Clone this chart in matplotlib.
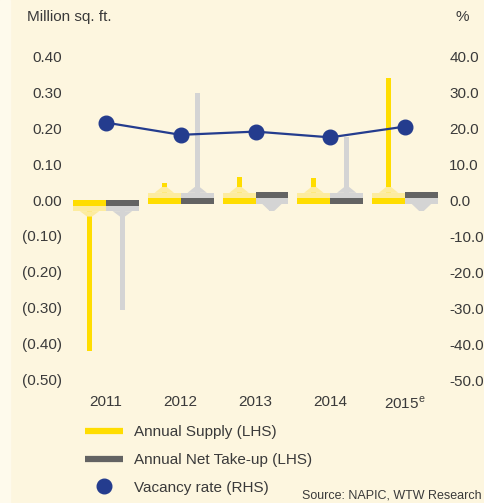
import numpy as np
import matplotlib.pyplot as plt
from matplotlib.lines import Line2D
from matplotlib.patches import Rectangle

plt.rcParams['font.family'] = ['Liberation Sans Narrow', 'Liberation Sans', 'DejaVu Sans']
plt.rcParams['mathtext.fontset'] = 'custom'
plt.rcParams['mathtext.rm'] = 'Liberation Sans'

years = ['2011', '2012', '2013', '2014', '2015$^{\\mathrm{e}}$']
supply = [-0.42, 0.047, 0.063, 0.062, 0.339]
take_up = [-0.305, 0.297, -0.03, 0.175, -0.03]
vacancy = [21.5, 18.1, 19.0, 17.4, 20.4]

lhs_ticks = [0.40, 0.30, 0.20, 0.10, 0.00, -0.10, -0.20, -0.30, -0.40, -0.50]
lhs_labels = ['0.40', '0.30', '0.20', '0.10', '0.00', '(0.10)', '(0.20)', '(0.30)', '(0.40)', '(0.50)']
rhs_ticks = [40, 30, 20, 10, 0, -10, -20, -30, -40, -50]
rhs_labels = ['40.0', '30.0', '20.0', '10.0', '0.0', '-10.0', '-20.0', '-30.0', '-40.0', '-50.0']

bg = '#FDF6DF'
yellow = '#FFDD00'
yellow_lt = '#FDEC9F'
grey = '#636363'
grey_lt = '#D4D4D4'
navy = '#243C8E'
txt = '#3A3A3A'

fig = plt.figure(figsize=(4.84, 5.03), dpi=100)
fig.patch.set_facecolor(bg)
fig.patches.append(Rectangle((0, 0), 10 / 484, 1, transform=fig.transFigure,
                             color='#FEFAEC', zorder=0))
ax = fig.add_axes([66 / 484, 123 / 503, 379 / 484, 324 / 503])
ax.set_facecolor(bg)

x = np.arange(len(years))
bw = 0.44   # band width
sw = 0.067  # stalk width


def draw_bar(xc, v, col, col_lt, stalk_col):
    # stalk
    ax.bar(xc, v, width=sw, color=stalk_col, zorder=2, linewidth=0)
    # main band and shaded band with a taper into the stalk
    if v >= 0:
        ax.bar(xc, 0.017, bottom=-0.011, width=bw, color=col, zorder=4, linewidth=0)
        ax.bar(xc, 0.014, bottom=0.006, width=bw, color=col_lt, zorder=3, linewidth=0)
        base, tip = 0.02, 0.036
    elif abs(v) < 0.05:
        ax.bar(xc, 0.016, bottom=0.005, width=bw, color=col, zorder=4, linewidth=0)
        ax.bar(xc, 0.016, bottom=-0.011, width=bw, color=col_lt, zorder=3, linewidth=0)
        base, tip = -0.011, -0.03
    else:
        ax.bar(xc, 0.016, bottom=-0.016, width=bw, color=col, zorder=4, linewidth=0)
        ax.bar(xc, 0.015, bottom=-0.031, width=bw, color=col_lt, zorder=3, linewidth=0)
        base, tip = -0.031, -0.046
    ax.fill([xc - 0.13, xc + 0.13, xc + sw / 2, xc - sw / 2],
            [base, base, tip, tip], color=col_lt, zorder=3, linewidth=0)


for i in range(len(years)):
    draw_bar(x[i] - bw / 2, supply[i], yellow, yellow_lt, yellow)
    draw_bar(x[i] + bw / 2, take_up[i], grey, grey_lt, grey_lt)

ax.set_xlim(-0.535, 4.535)
ax.set_ylim(-0.5, 0.4)
ax.set_yticks(lhs_ticks)
ax.set_yticklabels(lhs_labels)
ax.set_xticks(x)
ax.set_xticklabels(years)
ax.tick_params(axis='both', length=0, labelsize=11, colors=txt)
ax.tick_params(axis='y', pad=3)
ax.tick_params(axis='x', pad=11)
for sp in ax.spines.values():
    sp.set_visible(False)

ax2 = ax.twinx()
ax2.plot(x, vacancy, color=navy, linewidth=1.6, marker='o', markersize=10.5, zorder=5)
ax2.set_ylim(-50, 40)
ax2.set_yticks(rhs_ticks)
ax2.set_yticklabels(rhs_labels)
ax2.tick_params(axis='y', length=0, labelsize=11, colors=txt, pad=3)
for sp in ax2.spines.values():
    sp.set_visible(False)

fig.text(27 / 484, 1 - 17 / 503, 'Million sq. ft.', fontsize=11, color=txt, va='center', ha='left')
fig.text(455 / 484, 1 - 17 / 503, '%', fontsize=11, color=txt, va='center', ha='left')

handles = [Line2D([], [], color=yellow, linewidth=4.5, solid_capstyle='butt'),
           Line2D([], [], color=grey, linewidth=4.5, solid_capstyle='butt'),
           Line2D([], [], color=navy, linestyle='none', marker='o', markersize=10.5)]
labels = ['Annual Supply (LHS)', 'Annual Net Take-up (LHS)', 'Vacancy rate (RHS)']
fig.legend(handles, labels, loc='upper left', bbox_to_anchor=(79 / 484, 1 - 419 / 503),
           frameon=False, fontsize=11, handlelength=2.5, handletextpad=0.7,
           labelspacing=0.9, borderaxespad=0, labelcolor=txt)

fig.text(482 / 484, 1 - 495 / 503, 'Source: NAPIC, WTW Research', fontsize=9,
         color=txt, va='center', ha='right')

fig.savefig('out.png', dpi=100, facecolor=bg)
